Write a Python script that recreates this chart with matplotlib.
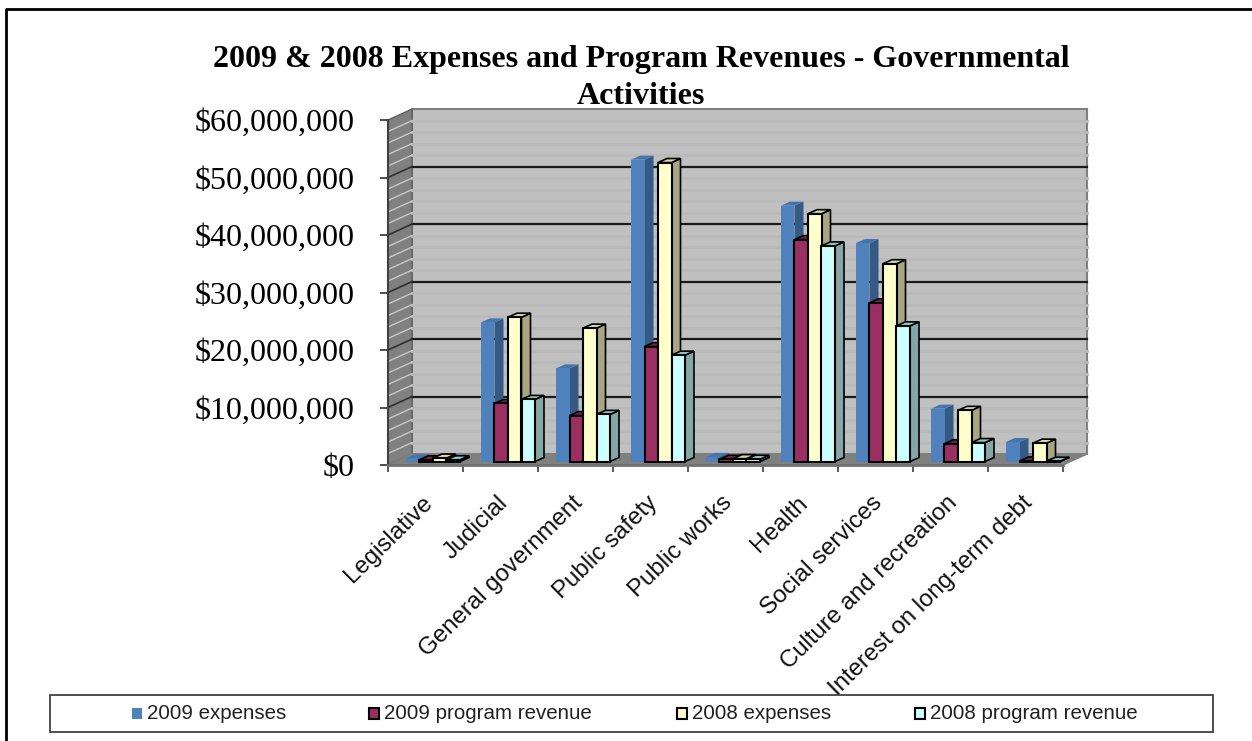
import matplotlib
matplotlib.use('Agg')
import matplotlib.pyplot as plt
from matplotlib.patches import Rectangle

categories = ['Legislative', 'Judicial', 'General government', 'Public safety', 'Public works',
              'Health', 'Social services', 'Culture and recreation', 'Interest on long-term debt']
series_names = ['2009 expenses', '2009 program revenue', '2008 expenses', '2008 program revenue']

# values in millions of dollars
exp_2009 = [0.6, 24.2, 16.2, 52.5, 0.8, 44.5, 38.0, 9.2, 3.4]
rev_2009 = [0.3, 10.1, 8.0, 20.0, 0.4, 38.6, 27.6, 3.1, 0.1]
exp_2008 = [0.6, 25.1, 23.2, 52.0, 0.5, 43.1, 34.4, 8.9, 3.2]
rev_2008 = [0.3, 10.8, 8.2, 18.5, 0.4, 37.5, 23.6, 3.3, 0.05]
all_series = [exp_2009, rev_2009, exp_2008, rev_2008]

y_ticks = [0, 10, 20, 30, 40, 50, 60]
y_labels = ['$0', '$10,000,000', '$20,000,000', '$30,000,000', '$40,000,000', '$50,000,000', '$60,000,000']

front = ['#4f81bd', '#9b2f62', '#ffffcc', '#ccffff']
side = ['#355a85', '#6d2145', '#a8a680', '#85a6a6']
top = ['#4475ad', '#7a2050', '#dcdca0', '#88caca']
edges = ['none', 'black', 'black', 'black']
legend_x = [132, 369, 677, 915]

W, H = 1252, 741
fig = plt.figure(figsize=(W / 100, H / 100), dpi=100)
ax = fig.add_axes([388 / W, 1 - 465 / H, 675 / W, 345 / H])
ax.set_xlim(0, 9)
ax.set_ylim(0, 60)

# depth of the box and of the bars, in data units
DX, DY = 0.32, 1.9
SX, SY = 0.10, 0.6
BX, BY = 0.12, 0.7
BW = 0.18

# walls and floor
ax.fill([DX, 9 + DX, 9 + DX, DX], [DY, DY, 60 + DY, 60 + DY], fc='#c0c0c0', ec='#808080', lw=1.5,
        clip_on=False, zorder=1)
ax.fill([0, DX, DX, 0], [0, DY, 60 + DY, 60], fc='#808080', ec='#606060', lw=1, clip_on=False, zorder=1)
ax.fill([0, 9, 9 + DX, DX], [0, 0, DY, DY], fc='#808080', ec='#808080', lw=1, clip_on=False, zorder=1)
for v in range(2, 60, 2):
    if v % 10:
        ax.plot([DX, 9 + DX], [v + DY, v + DY], color='#bababa', lw=2, clip_on=False, zorder=2)
        ax.plot([0, DX], [v, v + DY], color='#c8c8c8', lw=1, clip_on=False, zorder=2)
for v in y_ticks[1:-1]:
    ax.plot([DX, 9 + DX], [v + DY, v + DY], color='#1a1a1a', lw=1.6, clip_on=False, zorder=2)
    ax.plot([0, DX], [v, v + DY], color='#303030', lw=1.2, clip_on=False, zorder=2)

# bars, one category at a time so nearer faces overlap properly
for i in range(len(categories)):
    for j, vals in enumerate(all_series):
        v = vals[i]
        x0 = i + 0.14 + SX + j * BW
        x1 = x0 + BW
        z = 3 + i + j * 0.1
        ax.fill([x1, x1 + BX, x1 + BX, x1], [SY, SY + BY, SY + v + BY, SY + v], fc=side[j], ec=edges[j],
                lw=1.2, clip_on=False, zorder=z)
        ax.fill([x0, x1, x1 + BX, x0 + BX], [SY + v, SY + v, SY + v + BY, SY + v + BY], fc=top[j], ec=edges[j],
                lw=1.2, clip_on=False, zorder=z)
        ax.bar(x0, v, BW, bottom=SY, align='edge', color=front[j], edgecolor=edges[j], lw=1.5,
               clip_on=False, zorder=z + 0.01)

for s in ['top', 'right']:
    ax.spines[s].set_visible(False)
ax.spines['left'].set_color('#404040')
ax.spines['left'].set_linewidth(1.5)
ax.spines['bottom'].set_color('#707070')
ax.spines['bottom'].set_linewidth(2)
ax.patch.set_alpha(0)

ax.set_yticks(y_ticks)
ax.set_yticklabels(y_labels, family='Liberation Serif', fontsize=23)
ax.tick_params(axis='y', length=6, width=1.2, color='#303030', pad=18)
ax.set_xticks(range(10))
ax.set_xticklabels([])
for i, name in enumerate(categories):
    ax.annotate(name, (i + 0.5, 0), xytext=(-4, -27), textcoords='offset pixels', rotation=44.5, ha='right', va='top',
                rotation_mode='anchor', family='Liberation Sans', fontsize=17.3, color='#101010',
                annotation_clip=False)
ax.tick_params(axis='x', which='major', length=5, width=1.2, color='#404040')

fig.text(641 / W, 1 - 59 / H, '2009 & 2008 Expenses and Program Revenues - Governmental', ha='center', va='center',
         family='Liberation Serif', weight='bold', fontsize=23)
fig.text(641 / W, 1 - 96 / H, 'Activities', ha='center', va='center',
         family='Liberation Serif', weight='bold', fontsize=23)

# overlay in pixel coordinates for the outer frame and the legend
over = fig.add_axes([0, 0, 1, 1], zorder=5)
over.set_xlim(0, W)
over.set_ylim(H, 0)
over.axis('off')
over.plot([6, 6, W], [H, 9, 9], color='black', lw=2)
over.add_patch(Rectangle((50, 695), 1163, 37, fc='white', ec='#404040', lw=1.3))
for name, c, e, lx in zip(series_names, front, edges, legend_x):
    over.add_patch(Rectangle((lx, 708), 10, 11, fc=c, ec=e if e == 'none' else 'black', lw=1.5))
    over.text(lx + 15, 713.5, name, ha='left', va='center', family='Liberation Sans', fontsize=14.8, color='#202020')

fig.savefig('out.png', dpi=100)
